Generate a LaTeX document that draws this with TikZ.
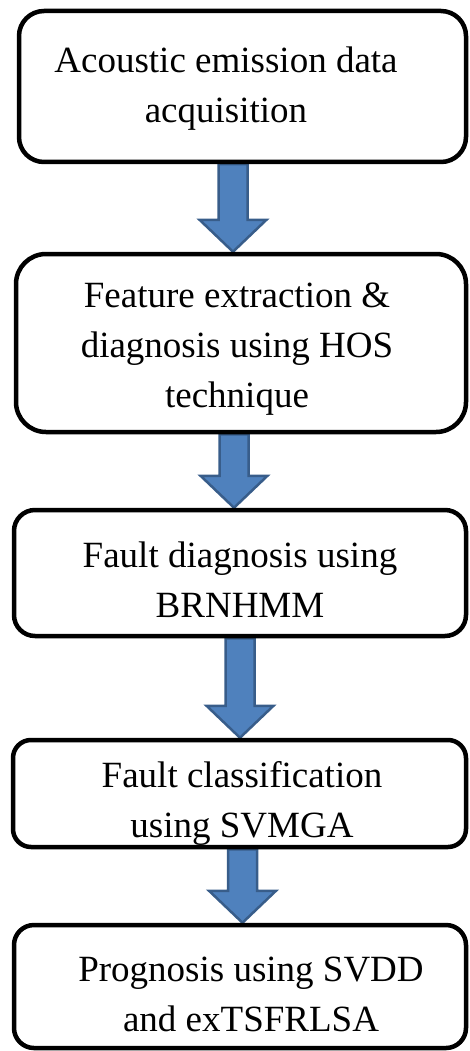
\documentclass[tikz,border=0pt]{standalone}
\usepackage{fontspec}
\setmainfont{Liberation Serif}
\usepackage{tikz}
\usetikzlibrary{calc,backgrounds}
\definecolor{arrowfill}{HTML}{4F81BD}
\definecolor{arrowline}{HTML}{385D8A}
\tikzset{
  stagebox/.style={draw=black, line width=4.5pt, fill=white, inner sep=0pt},
  stagetext/.style={align=center, inner sep=0pt, font=\fontsize{37}{50}\selectfont},
  blockarrow/.style={fill=arrowfill, draw=arrowline, line width=2.5pt, line join=miter}
}
\begin{document}
\begin{tikzpicture}[x=1pt, y=1pt]
  \useasboundingbox (0,0) rectangle (469,-1051);

  \node[stagebox, minimum width=447pt, minimum height=151pt, rounded corners=25pt] (acq) at (242.5,-86.5) {};
  \node[stagebox, minimum width=450pt, minimum height=178pt, rounded corners=30pt] (hos) at (241,-343) {};
  \node[stagebox, minimum width=452pt, minimum height=126pt, rounded corners=21pt] (brnhmm) at (240,-573) {};
  \node[stagebox, minimum width=453pt, minimum height=107pt, rounded corners=18pt] (svmga) at (239.5,-793.5) {};
  \node[stagebox, minimum width=452pt, minimum height=123pt, rounded corners=20pt] (prog) at (240,-986.5) {};

  \node[stagetext] (acqtext) at (226,-88.5) {Acoustic emission data\\acquisition};
  \node[stagetext] (hostext) at (237,-349) {Feature extraction \&\\diagnosis using HOS\\technique};
  \node[stagetext] (brnhmmtext) at (240,-579.5) {Fault diagnosis using\\BRNHMM};
  \node[stagetext] (svmgatext) at (242,-803.5) {Fault classification\\using SVMGA};
  \node[stagetext] (progtext) at (251,-994.5) {Prognosis using SVDD\\and exTSFRLSA};

  % block arrows between the stages
  \begin{scope}[on background layer]
    \foreach \a/\b/\x in {acq/hos/233, hos/brnhmm/234, brnhmm/svmga/240, svmga/prog/242.5} {
      \coordinate (top) at (\a.south -| \x,0);
      \coordinate (tip) at (\b.north -| \x,0);
      \draw[blockarrow] ([shift={(-14.5,0)}]top) -- ([shift={(-14.5,32)}]tip) -- ([shift={(-33.5,32)}]tip)
        -- (tip) -- ([shift={(33.5,32)}]tip) -- ([shift={(14.5,32)}]tip) -- ([shift={(14.5,0)}]top) -- cycle;
    }
  \end{scope}
\end{tikzpicture}
\end{document}
